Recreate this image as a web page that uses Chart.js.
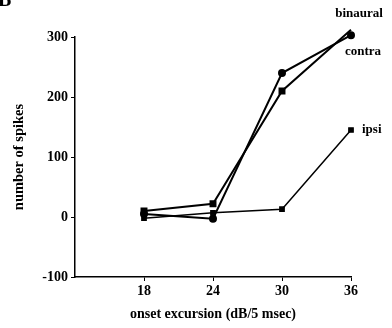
<!DOCTYPE html>
<html>
<head>
<meta charset="utf-8">
<script src="https://cdn.jsdelivr.net/npm/chart.js@4/dist/chart.umd.min.js"></script>
<style>
  html, body { margin: 0; padding: 0; background: #fff; }
</style>
</head>
<body>
<canvas id="chart" width="392" height="328"></canvas>
<script>
// values
const excursion = [18, 24, 30, 36];
const binaural = [10, 22, 210, 312];
const contra = [5, -3, 240, 303];
const ipsi = [-2, 7, 13, 145];
const xTicks = [18, 24, 30, 36];
const yTicks = [-100, 0, 100, 200, 300];

const serif = '"Liberation Serif", "DejaVu Serif", serif';
Chart.defaults.font.family = serif;
Chart.defaults.font.weight = 'bold';
Chart.defaults.color = '#000';

const pairs = vals => excursion.map((x, i) => ({ x: x, y: vals[i] }));

// series names next to the last points, plus the panel letter
const labelPlugin = {
    id: 'seriesLabels',
    afterDatasetsDraw(chart) {
        const ctx = chart.ctx;
        const xs = chart.scales.x, ys = chart.scales.y;
        const last = excursion.length - 1;
        const px = xs.getPixelForValue(excursion[last]);
        ctx.save();
        ctx.fillStyle = '#000';
        ctx.font = 'bold 13px ' + serif;
        ctx.textBaseline = 'middle';
        ctx.textAlign = 'center';
        ctx.fillText('binaural', px + 8, ys.getPixelForValue(binaural[last]) - 16);
        ctx.fillText('contra', px + 12, ys.getPixelForValue(contra[last]) + 16);
        ctx.textAlign = 'left';
        ctx.fillText('ipsi', px + 11, ys.getPixelForValue(ipsi[last]));
        ctx.font = 'bold 20px ' + serif;
        ctx.textBaseline = 'alphabetic';
        ctx.fillText('B', -2, 6);
        ctx.restore();
    }
};

const ctx = document.getElementById('chart');
new Chart(ctx, {
    type: 'line',
    data: {
        datasets: [{
            label: 'binaural',
            data: pairs(binaural),
            borderColor: '#000',
            backgroundColor: '#000',
            borderWidth: 2,
            pointStyle: 'rect',
            pointRadius: 3.5,
            tension: 0,
            clip: false
        }, {
            label: 'contra',
            data: pairs(contra),
            borderColor: '#000',
            backgroundColor: '#000',
            borderWidth: 2,
            pointStyle: 'circle',
            pointRadius: 3,
            tension: 0,
            clip: false
        }, {
            label: 'ipsi',
            data: pairs(ipsi),
            borderColor: '#000',
            backgroundColor: '#000',
            borderWidth: 1.5,
            pointStyle: 'rect',
            pointRadius: 3,
            tension: 0,
            clip: false
        }]
    },
    options: {
        responsive: false,
        animation: false,
        devicePixelRatio: 1,
        layout: { padding: { left: 0, right: 41, top: 37, bottom: 0 } },
        plugins: {
            legend: { display: false },
            tooltip: { enabled: false }
        },
        scales: {
            x: {
                type: 'linear',
                min: 12,
                max: 36,
                afterBuildTicks: scale => { scale.ticks = xTicks.map(v => ({ value: v })); },
                afterFit: scale => { scale.height = 51; },
                grid: { drawOnChartArea: false, drawTicks: true, tickLength: 4, color: '#000' },
                border: { display: true, color: '#000', width: 1.5 },
                ticks: { font: { size: 14, weight: 'bold' }, padding: 2, maxRotation: 0 },
                title: {
                    display: true,
                    text: 'onset excursion (dB/5 msec)',
                    font: { size: 14, weight: 'bold' },
                    padding: { top: 0, bottom: 5 }
                }
            },
            y: {
                min: -100,
                max: 300,
                afterBuildTicks: scale => { scale.ticks = yTicks.map(v => ({ value: v })); },
                afterFit: scale => { scale.width = 75; },
                grid: { drawOnChartArea: false, drawTicks: true, tickLength: 4, color: '#000' },
                border: { display: true, color: '#000', width: 1.5 },
                ticks: { font: { size: 14, weight: 'bold' }, padding: 3 },
                title: {
                    display: true,
                    text: 'number of spikes',
                    font: { size: 14.5, weight: 'bold' },
                    padding: { top: 11, bottom: 0 }
                }
            }
        }
    },
    plugins: [labelPlugin]
});
</script>
</body>
</html>
